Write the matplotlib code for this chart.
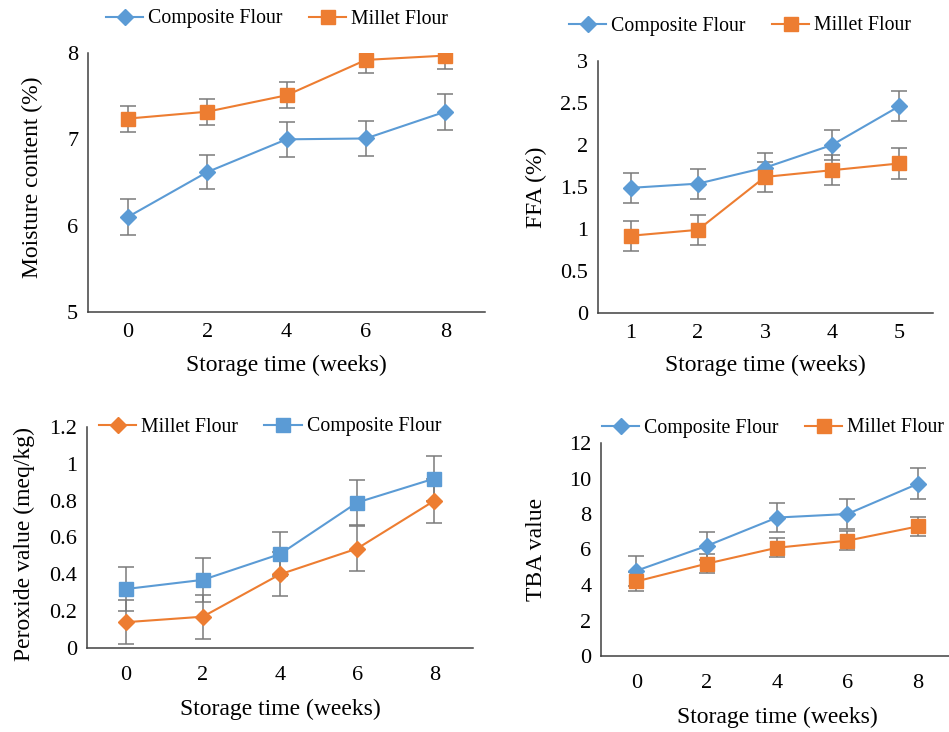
import matplotlib
matplotlib.use("Agg")
import matplotlib.pyplot as plt
from matplotlib.ticker import FuncFormatter, MultipleLocator

plt.rcParams['font.family'] = ['Liberation Serif', 'DejaVu Serif']

BLUE = '#5B9BD5'
ORANGE = '#ED7D31'
ERR_COLOR = '#7A7A7A'

# x categories
weeks = ['0', '2', '4', '6', '8']
ffa_weeks = ['1', '2', '3', '4', '5']

# moisture content (%)
moist_composite = [6.10, 6.62, 7.00, 7.01, 7.32]
moist_composite_err = [0.21, 0.20, 0.20, 0.20, 0.21]
moist_millet = [7.24, 7.32, 7.51, 7.92, 7.97]
moist_millet_err = [0.15, 0.15, 0.15, 0.15, 0.15]

# FFA (%)
ffa_composite = [1.49, 1.54, 1.73, 2.00, 2.46]
ffa_composite_err = [0.18, 0.18, 0.18, 0.18, 0.18]
ffa_millet = [0.92, 0.99, 1.62, 1.70, 1.78]
ffa_millet_err = [0.18, 0.18, 0.18, 0.18, 0.18]

# peroxide value (meq/kg)
pv_millet = [0.14, 0.17, 0.40, 0.54, 0.80]
pv_millet_err = [0.12, 0.12, 0.12, 0.12, 0.12]
pv_composite = [0.32, 0.37, 0.51, 0.79, 0.92]
pv_composite_err = [0.12, 0.12, 0.12, 0.12, 0.12]

# TBA value
tba_composite = [4.8, 6.2, 7.8, 8.0, 9.7]
tba_composite_err = [0.85, 0.80, 0.83, 0.84, 0.87]
tba_millet = [4.2, 5.2, 6.1, 6.5, 7.3]
tba_millet_err = [0.55, 0.55, 0.55, 0.55, 0.52]

fig = plt.figure(figsize=(9.49, 7.32), dpi=100)
fmt = FuncFormatter(lambda v, p: '%g' % round(v, 6))


def draw_panel(rect, cats, series, ylim, ystep, ylabel, ylabel_xy, xlabel_y, xpad, legend_xy):
    ax = fig.add_axes(rect)
    x = list(range(len(cats)))
    for label, vals, errs, color, marker, ms in series:
        ax.errorbar(x, vals, yerr=errs, fmt='none', ecolor=ERR_COLOR,
                    elinewidth=1.1, capsize=6, capthick=1.1, zorder=2)
        ax.plot(x, vals, color=color, marker=marker, ms=ms, lw=1.5,
                label=label, zorder=3)
    ax.set_xlim(-0.5, len(cats) - 0.5)
    ax.set_ylim(*ylim)
    ax.set_xticks(x, cats)
    ax.yaxis.set_major_locator(MultipleLocator(ystep))
    ax.yaxis.set_major_formatter(fmt)
    ax.tick_params(axis='both', length=0, labelsize=16)
    ax.tick_params(axis='x', pad=xpad)
    ax.tick_params(axis='y', pad=7)
    for s in ['top', 'right']:
        ax.spines[s].set_visible(False)
    for s in ['left', 'bottom']:
        ax.spines[s].set_color('#404040')
        ax.spines[s].set_linewidth(1.1)
    ax.set_ylabel(ylabel, fontsize=17)
    ax.yaxis.set_label_coords(*ylabel_xy)
    ax.set_xlabel('Storage time (weeks)', fontsize=17)
    ax.xaxis.set_label_coords(0.5, xlabel_y)
    ax.legend(loc='center', bbox_to_anchor=legend_xy, bbox_transform=fig.transFigure,
              ncol=2, frameon=False, fontsize=14.3, handlelength=1.9,
              handletextpad=0.25, columnspacing=1.3, numpoints=1)
    return ax


draw_panel([88 / 949, 1 - 312 / 732, 397 / 949, 259 / 732], weeks,
           [('Composite Flour', moist_composite, moist_composite_err, BLUE, 'D', 8),
            ('Millet Flour', moist_millet, moist_millet_err, ORANGE, 's', 9.5)],
           (5, 8), 1, 'Moisture content (%)', (-0.113, 0.52), -0.165, 8,
           (277 / 949, 1 - 19 / 732))

draw_panel([597.5 / 949, 1 - 313 / 732, 335 / 949, 252 / 732], ffa_weeks,
           [('Composite Flour', ffa_composite, ffa_composite_err, BLUE, 'D', 8),
            ('Millet Flour', ffa_millet, ffa_millet_err, ORANGE, 's', 9.5)],
           (0, 3), 0.5, 'FFA (%)', (-0.152, 0.5), -0.165, 8,
           (740 / 949, 1 - 26 / 732))

draw_panel([87 / 949, 1 - 648 / 732, 386 / 949, 221 / 732], weeks,
           [('Millet Flour', pv_millet, pv_millet_err, ORANGE, 'D', 8),
            ('Composite Flour', pv_composite, pv_composite_err, BLUE, 's', 9.5)],
           (0, 1.2), 0.2, 'Peroxide value (meq/kg)', (-0.135, 0.47), -0.23, 13,
           (270 / 949, 1 - 427 / 732))

draw_panel([601 / 949, 1 - 656 / 732, 352 / 949, 213 / 732], weeks,
           [('Composite Flour', tba_composite, tba_composite_err, BLUE, 'D', 8),
            ('Millet Flour', tba_millet, tba_millet_err, ORANGE, 's', 9.5)],
           (0, 12), 2, 'TBA value', (-0.153, 0.5), -0.24, 13,
           (773 / 949, 1 - 428 / 732))

fig.savefig('out.png', dpi=100)
